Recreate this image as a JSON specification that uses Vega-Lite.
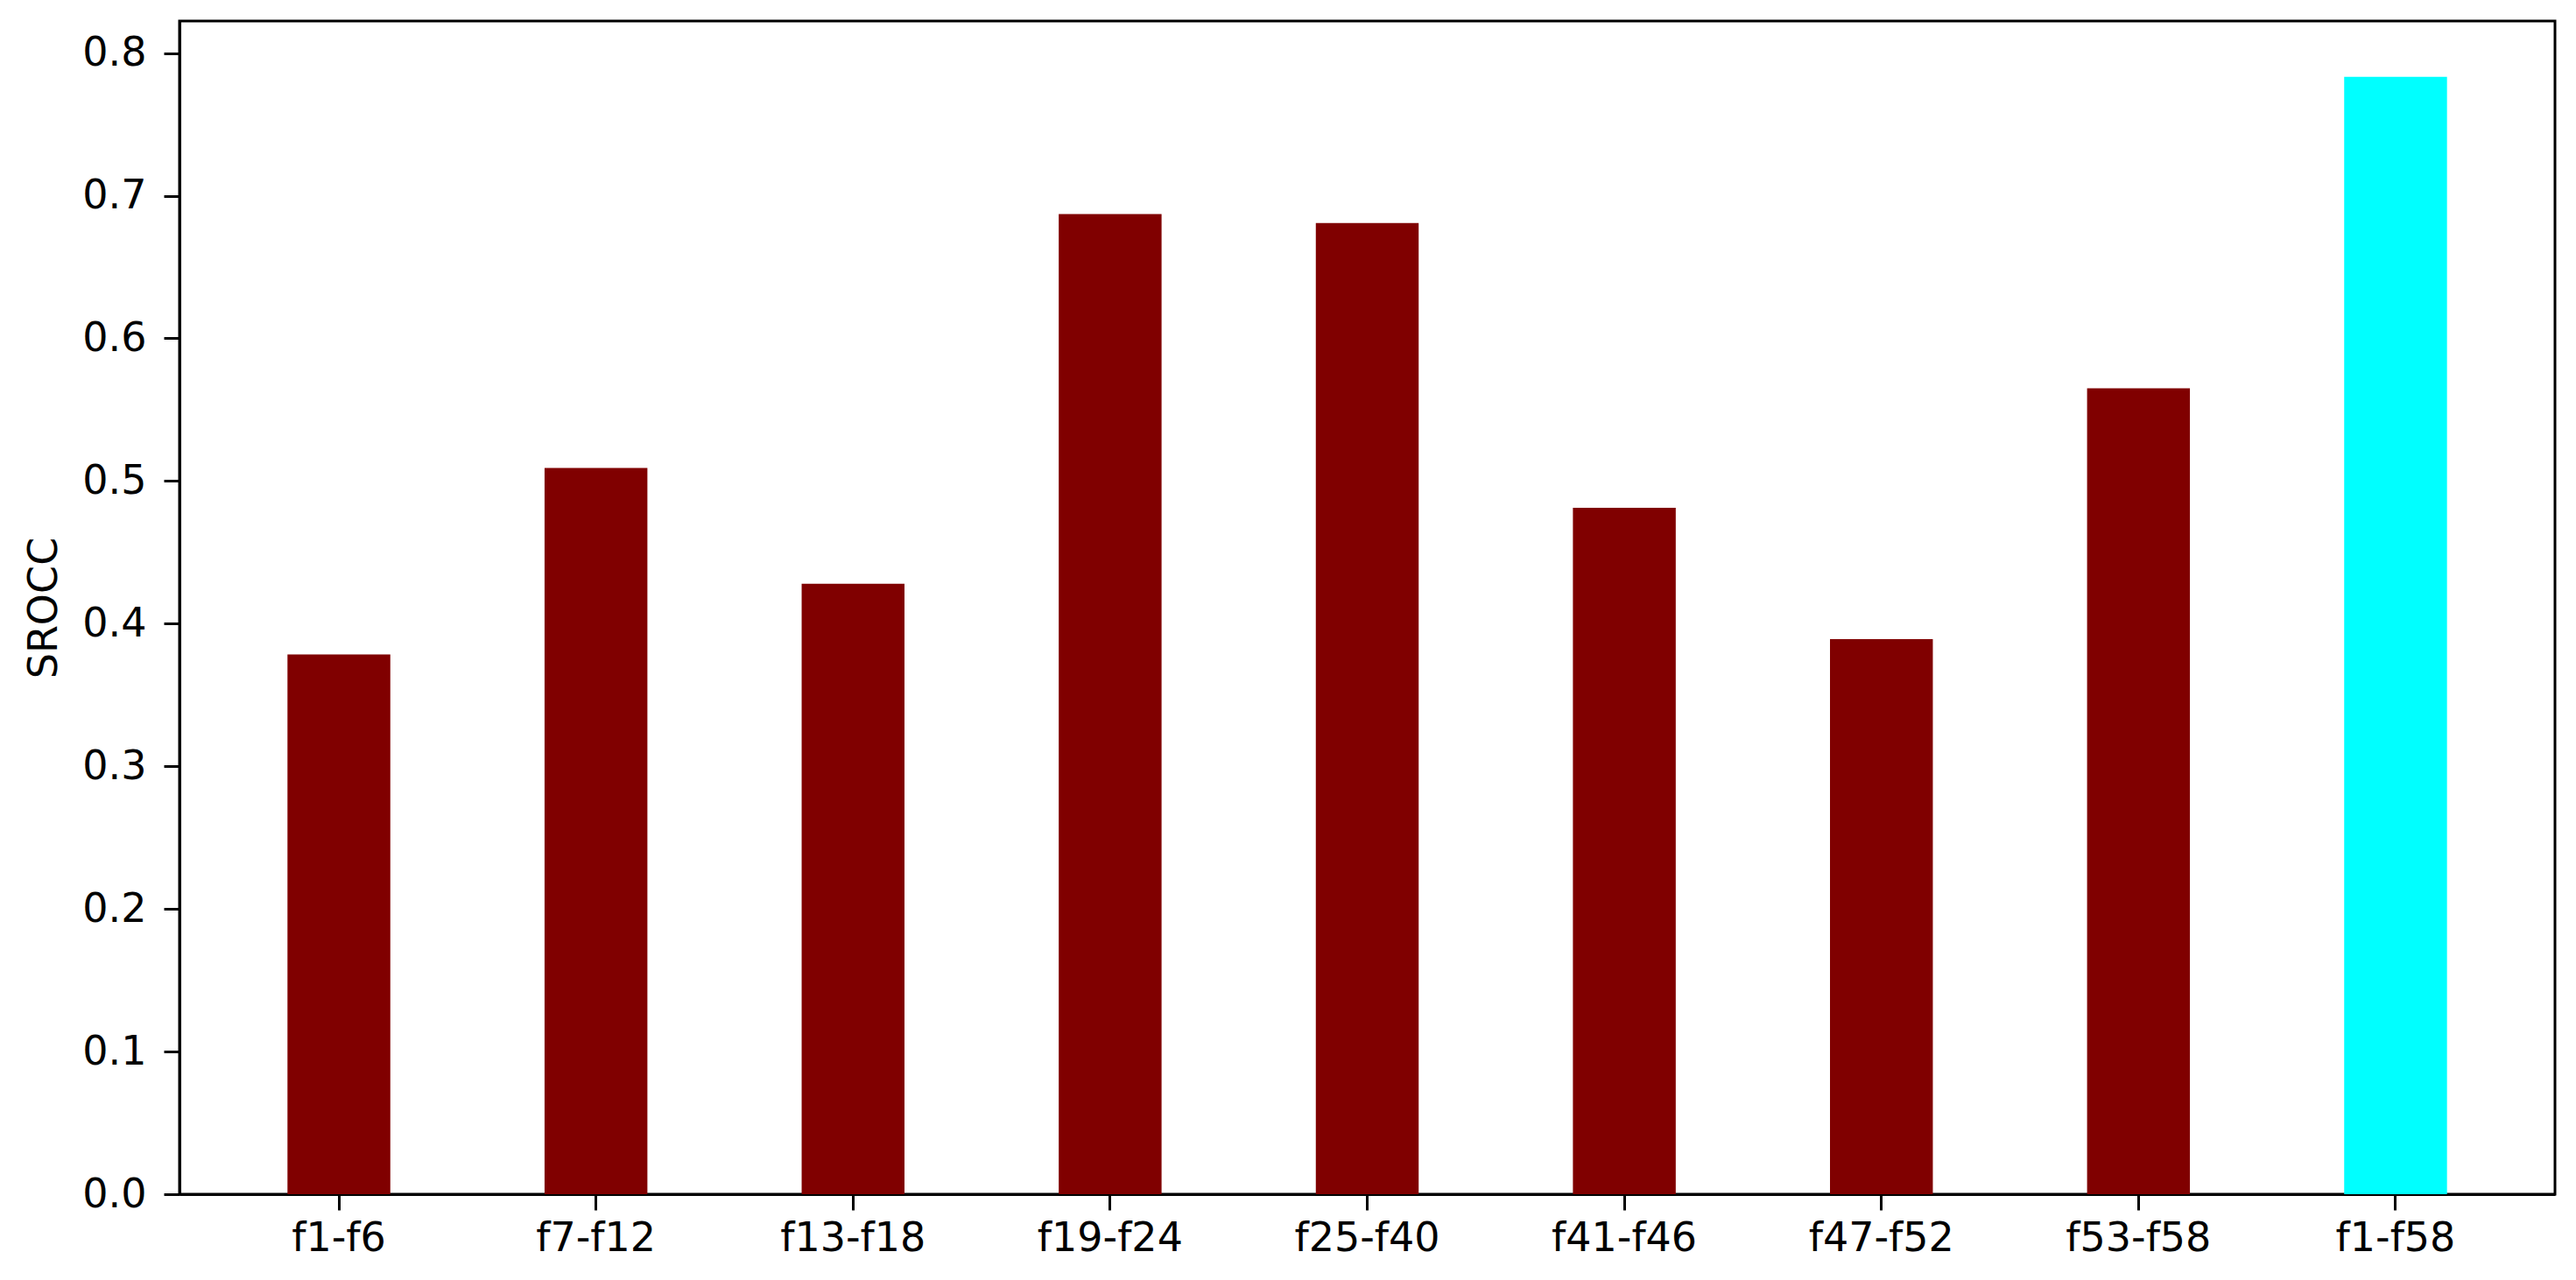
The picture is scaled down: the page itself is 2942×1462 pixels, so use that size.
{
  "$schema": "https://vega.github.io/schema/vega-lite/v6.json",
  "autosize": {"type": "none"},
  "padding": {"left": 205, "top": 24, "right": 24, "bottom": 98},
  "width": 2713,
  "height": 1340,
  "background": "white",
  "data": {
    "values": [
      {"features": "f1-f6", "srocc": 0.3784, "set": "subset"},
      {"features": "f7-f12", "srocc": 0.5092, "set": "subset"},
      {"features": "f13-f18", "srocc": 0.4279, "set": "subset"},
      {"features": "f19-f24", "srocc": 0.6871, "set": "subset"},
      {"features": "f25-f40", "srocc": 0.6808, "set": "subset"},
      {"features": "f41-f46", "srocc": 0.4812, "set": "subset"},
      {"features": "f47-f52", "srocc": 0.3891, "set": "subset"},
      {"features": "f53-f58", "srocc": 0.5650, "set": "subset"},
      {"features": "f1-f58", "srocc": 0.7834, "set": "all"}
    ]
  },
  "mark": {"type": "bar"},
  "encoding": {
    "x": {
      "field": "features",
      "type": "nominal",
      "sort": null,
      "scale": {"paddingInner": 0.6, "paddingOuter": 0.42},
      "axis": {
        "title": null,
        "labelAngle": 0,
        "labelFont": "DejaVu Sans",
        "labelFontSize": 46,
        "labelColor": "black",
        "labelPadding": 10,
        "tickSize": 18,
        "tickWidth": 3,
        "tickColor": "black",
        "domainColor": "black",
        "domainWidth": 3,
        "grid": false
      }
    },
    "y": {
      "field": "srocc",
      "type": "quantitative",
      "scale": {"domain": [0, 0.8225], "nice": false, "zero": true},
      "axis": {
        "title": "SROCC",
        "titleFont": "DejaVu Sans",
        "titleFontSize": 46,
        "titleFontWeight": "normal",
        "titleColor": "black",
        "titlePadding": 19,
        "values": [0, 0.1, 0.2, 0.3, 0.4, 0.5, 0.6, 0.7, 0.8],
        "format": ".1f",
        "labelFont": "DejaVu Sans",
        "labelFontSize": 46,
        "labelColor": "black",
        "labelPadding": 20,
        "tickSize": 18,
        "tickWidth": 3,
        "tickColor": "black",
        "domainColor": "black",
        "domainWidth": 3,
        "grid": false
      }
    },
    "color": {
      "field": "set",
      "type": "nominal",
      "scale": {"domain": ["subset", "all"], "range": ["#800000", "#00ffff"]},
      "legend": null
    }
  },
  "config": {
    "view": {"stroke": "black", "strokeWidth": 3},
    "bar": {"opacity": 1}
  }
}
